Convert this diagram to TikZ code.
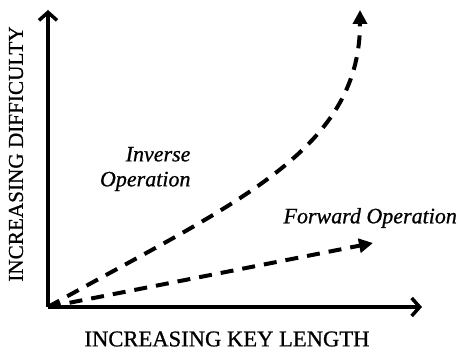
\documentclass[tikz,border=0pt]{standalone}
\usepackage{fontspec}
\setmainfont{Liberation Serif}[FakeBold=0.8]
\usetikzlibrary{arrows.meta}

\tikzset{
  axis/.style={line width=3.5pt, -{Straight Barb[length=8pt,width=18pt]}},
  growth/.style={line width=4pt, dash pattern=on 13pt off 9pt,
    -{Triangle[length=14pt,width=14pt]}},
  curvelabel/.style={font=\fontsize{22}{25}\selectfont\itshape}
}

\begin{document}
\begin{tikzpicture}[x=1pt,y=1pt]
    \useasboundingbox (0,0) rectangle (458,353);
    \coordinate (O) at (48,46);
    \coordinate (xend) at (422,46);
    \coordinate (yend) at (48,343);
    \coordinate (inv) at (360,343);
    \coordinate (fwd) at (373,110);
    % axes
    \draw[axis] (O) -- (xend);
    \draw[axis] (O) -- (yend);
    \node[font=\fontsize{22.6}{25}\selectfont] (xlab) at (227,14) {INCREASING KEY LENGTH};
    \node[font=\fontsize{21.2}{24}\selectfont, rotate=90] (ylab) at (16,199) {INCREASING DIFFICULTY};
    % the two curves
    \draw[growth] (O) .. controls (230,148) and (360,200) .. (inv);
    \draw[growth] (O) -- (fwd);
    \node[curvelabel, align=right, anchor=east] (invlab) at (194,184) {Inverse\\Operation};
    \node[curvelabel, anchor=west] (fwdlab) at (280,135) {Forward Operation};
\end{tikzpicture}
\end{document}
